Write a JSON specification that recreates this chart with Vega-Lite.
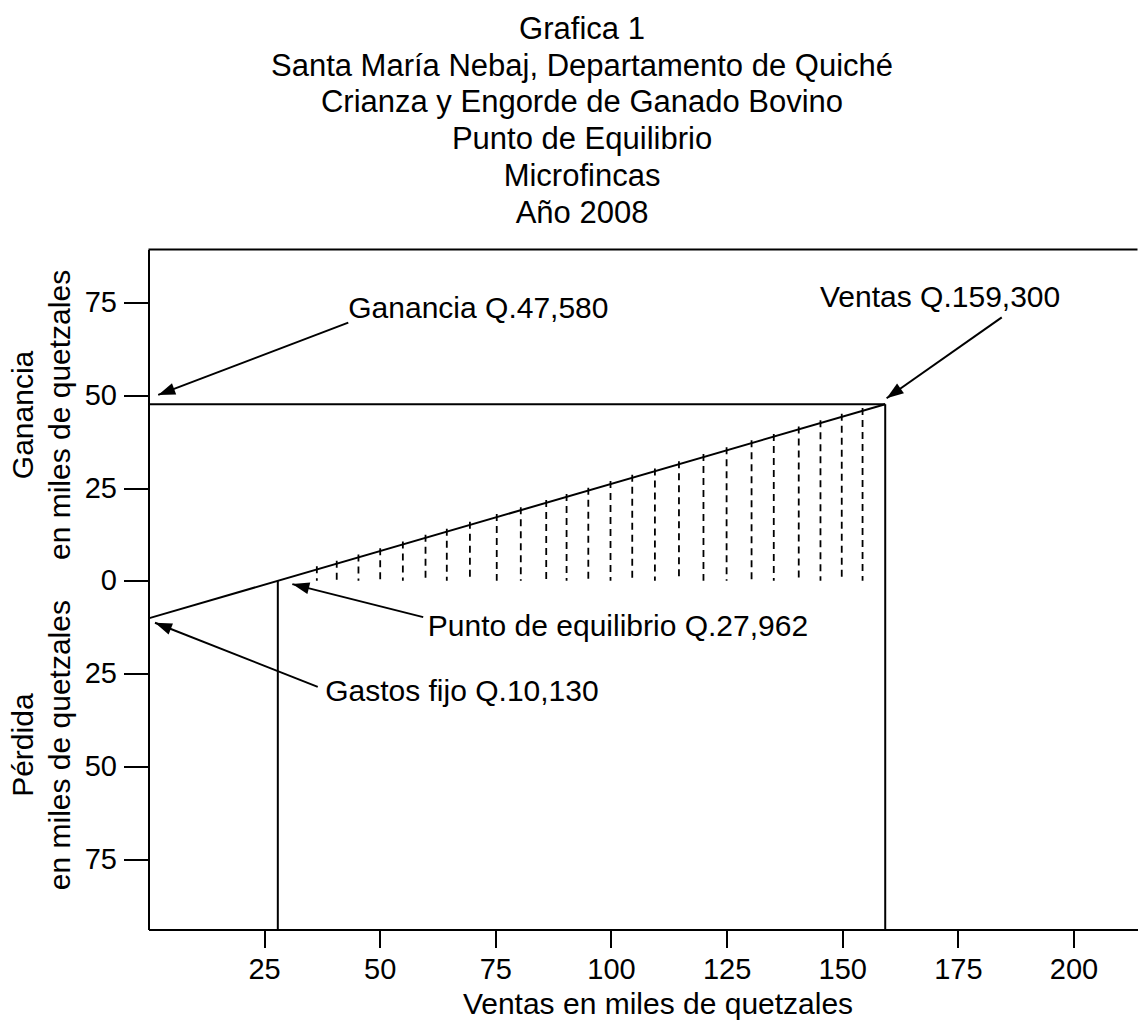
{
  "$schema": "https://vega.github.io/schema/vega-lite/v6.json",
  "width": 989,
  "height": 680,
  "autosize": {"type": "none"},
  "padding": {"left": 148.5, "top": 249.5, "right": 0, "bottom": 90.5},
  "background": "white",
  "config": {
    "font": "Liberation Sans",
    "view": {"stroke": null},
    "axis": {
      "domainColor": "black", "domainWidth": 2, "tickColor": "black", "tickWidth": 2,
      "labelColor": "black", "labelFontSize": 29, "labelFont": "Liberation Sans",
      "grid": false, "titleColor": "black", "titleFont": "Liberation Sans", "titleFontWeight": "normal"
    }
  },
  "title": {
    "text": ["Grafica 1", "Santa María Nebaj, Departamento de Quiché", "Crianza y Engorde de  Ganado Bovino", "Punto de Equilibrio", "Microfincas", "Año 2008"],
    "font": "Liberation Sans", "fontSize": 31, "fontWeight": "normal", "color": "black",
    "lineHeight": 36.7, "anchor": "middle", "dx": -61, "offset": 19
  },
  "datasets": {
    "segs": [
      {"x": 0, "y": 89.3, "x2": 213.85, "y2": 89.3},
      {"x": 0, "y": 47.58, "x2": 159.3, "y2": 47.58},
      {"x": 0, "y": -10.13, "x2": 159.3, "y2": 47.58},
      {"x": 27.962, "y": 0, "x2": 27.962, "y2": -94},
      {"x": 159.3, "y": 47.58, "x2": 159.3, "y2": -94}
    ],
    "hatch": [
      {"x": 36.4, "top": 3.9}, {"x": 40.7, "top": 5.4}, {"x": 45.4, "top": 7.1}, {"x": 50.1, "top": 8.8},
      {"x": 55.0, "top": 10.6}, {"x": 59.9, "top": 12.4}, {"x": 64.5, "top": 14.0}, {"x": 69.5, "top": 15.9},
      {"x": 75.3, "top": 18.0}, {"x": 80.5, "top": 19.8}, {"x": 86.0, "top": 21.8}, {"x": 90.4, "top": 23.4},
      {"x": 95.1, "top": 25.1}, {"x": 99.9, "top": 26.9}, {"x": 104.6, "top": 28.6}, {"x": 109.5, "top": 30.3},
      {"x": 114.7, "top": 32.2}, {"x": 120.0, "top": 34.2}, {"x": 125.0, "top": 36.0}, {"x": 130.4, "top": 37.9},
      {"x": 135.2, "top": 39.6}, {"x": 140.6, "top": 41.6}, {"x": 145.3, "top": 43.3}, {"x": 149.9, "top": 45.0},
      {"x": 154.4, "top": 46.6}
    ],
    "notes": [
      {"name": "ganancia", "label": "Ganancia Q.47,580", "tx": 43.2, "ty": 70.8, "x0": 43.2, "y0": 69.6, "x1": 2.1, "y1": 50.1},
      {"name": "ventas", "label": "Ventas Q.159,300", "tx": 145.2, "ty": 73.8, "x0": 184.5, "y0": 71.0, "x1": 159.6, "y1": 49.2},
      {"name": "punto", "label": "Punto de equilibrio Q.27,962", "tx": 60.4, "ty": -15.0, "x0": 59.4, "y0": -9.8, "x1": 31.1, "y1": -0.9},
      {"name": "gastos", "label": "Gastos fijo Q.10,130", "tx": 38.2, "ty": -32.3, "x0": 36.6, "y0": -28.6, "x1": 1.4, "y1": -11.3}
    ],
    "sidetitles": [
      {"t": "Ganancia\nen miles de quetzales", "x": -27.0, "y": 44.7},
      {"t": "Pérdida\nen miles de quetzales", "x": -27.0, "y": -44.3}
    ]
  },
  "layer": [
    {
      "data": {"name": "segs"},
      "mark": {"type": "rule", "color": "black", "strokeWidth": 2},
      "encoding": {
        "x": {"field": "x", "type": "quantitative", "scale": {"domain": [0, 213.85], "nice": false, "zero": false},
          "axis": {"values": [25, 50, 75, 100, 125, 150, 175, 200], "tickSize": 18, "labelPadding": 8,
            "title": "Ventas en miles de quetzales", "titleFontSize": 30, "titleX": 509, "titleY": 84,
            "titleAlign": "center", "titleBaseline": "alphabetic", "titleAnchor": null}},
        "y": {"field": "y", "type": "quantitative", "scale": {"domain": [-94, 89.3], "nice": false, "zero": false},
          "axis": {"values": [-75, -50, -25, 0, 25, 50, 75], "labelExpr": "format(abs(datum.value), 'd')",
            "tickSize": 25, "labelPadding": 7, "title": null}},
        "x2": {"field": "x2"},
        "y2": {"field": "y2"}
      }
    },
    {
      "mark": {"type": "rule", "color": "black", "strokeWidth": 2},
      "encoding": {"y": {"datum": 0, "type": "quantitative", "scale": {"domain": [-94, 89.3], "nice": false, "zero": false}}}
    },
    {
      "data": {"name": "hatch"},
      "mark": {"type": "rule", "color": "black", "strokeWidth": 1.8, "strokeDash": [7, 5]},
      "encoding": {
        "x": {"field": "x", "type": "quantitative", "scale": {"domain": [0, 213.85], "nice": false, "zero": false}},
        "y": {"field": "top", "type": "quantitative", "scale": {"domain": [-94, 89.3], "nice": false, "zero": false}},
        "y2": {"datum": 0}
      }
    },
    {
      "data": {"name": "notes"},
      "mark": {"type": "rule", "color": "black", "strokeWidth": 2},
      "encoding": {
        "x": {"field": "x0", "type": "quantitative", "scale": {"domain": [0, 213.85], "nice": false, "zero": false}},
        "y": {"field": "y0", "type": "quantitative", "scale": {"domain": [-94, 89.3], "nice": false, "zero": false}},
        "x2": {"field": "x1"},
        "y2": {"field": "y1"}
      }
    },
    {
      "data": {"name": "notes"},
      "transform": [{"filter": "datum.name === 'ganancia'"}],
      "mark": {"type": "point", "shape": "M0,0L0.7,2L-0.7,2Z", "filled": true, "color": "black", "opacity": 1, "size": 289, "angle": 249.2},
      "encoding": {
        "x": {"field": "x1", "type": "quantitative", "scale": {"domain": [0, 213.85], "nice": false, "zero": false}},
        "y": {"field": "y1", "type": "quantitative", "scale": {"domain": [-94, 89.3], "nice": false, "zero": false}}
      }
    },
    {
      "data": {"name": "notes"},
      "transform": [{"filter": "datum.name === 'ventas'"}],
      "mark": {"type": "point", "shape": "M0,0L0.7,2L-0.7,2Z", "filled": true, "color": "black", "opacity": 1, "size": 289, "angle": 234.8},
      "encoding": {
        "x": {"field": "x1", "type": "quantitative", "scale": {"domain": [0, 213.85], "nice": false, "zero": false}},
        "y": {"field": "y1", "type": "quantitative", "scale": {"domain": [-94, 89.3], "nice": false, "zero": false}}
      }
    },
    {
      "data": {"name": "notes"},
      "transform": [{"filter": "datum.name === 'punto'"}],
      "mark": {"type": "point", "shape": "M0,0L0.7,2L-0.7,2Z", "filled": true, "color": "black", "opacity": 1, "size": 289, "angle": 284.2},
      "encoding": {
        "x": {"field": "x1", "type": "quantitative", "scale": {"domain": [0, 213.85], "nice": false, "zero": false}},
        "y": {"field": "y1", "type": "quantitative", "scale": {"domain": [-94, 89.3], "nice": false, "zero": false}}
      }
    },
    {
      "data": {"name": "notes"},
      "transform": [{"filter": "datum.name === 'gastos'"}],
      "mark": {"type": "point", "shape": "M0,0L0.7,2L-0.7,2Z", "filled": true, "color": "black", "opacity": 1, "size": 289, "angle": 291.5},
      "encoding": {
        "x": {"field": "x1", "type": "quantitative", "scale": {"domain": [0, 213.85], "nice": false, "zero": false}},
        "y": {"field": "y1", "type": "quantitative", "scale": {"domain": [-94, 89.3], "nice": false, "zero": false}}
      }
    },
    {
      "data": {"name": "notes"},
      "mark": {"type": "text", "font": "Liberation Sans", "fontSize": 30, "align": "left", "baseline": "alphabetic", "color": "black"},
      "encoding": {
        "x": {"field": "tx", "type": "quantitative", "scale": {"domain": [0, 213.85], "nice": false, "zero": false}},
        "y": {"field": "ty", "type": "quantitative", "scale": {"domain": [-94, 89.3], "nice": false, "zero": false}},
        "text": {"field": "label"}
      }
    },
    {
      "data": {"name": "sidetitles"},
      "mark": {"type": "text", "font": "Liberation Sans", "fontSize": 30, "align": "center", "baseline": "middle", "angle": 270, "lineBreak": "\n", "lineHeight": 37, "color": "black"},
      "encoding": {
        "x": {"field": "x", "type": "quantitative", "scale": {"domain": [0, 213.85], "nice": false, "zero": false}},
        "y": {"field": "y", "type": "quantitative", "scale": {"domain": [-94, 89.3], "nice": false, "zero": false}},
        "text": {"field": "t"}
      }
    }
  ]
}
